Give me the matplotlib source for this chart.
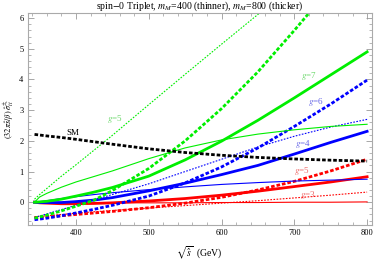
import matplotlib
matplotlib.use('Agg')
import matplotlib.pyplot as plt
from matplotlib.ticker import MultipleLocator

plt.rcParams['font.family'] = ['Liberation Serif', 'DejaVu Serif']
plt.rcParams['mathtext.fontset'] = 'stix'

# sqrt(s) grid (GeV) the curves were read at
sqrt_s = [343, 350, 360, 380, 400, 425, 450, 500, 550, 600, 650, 700, 750, 800]

# SM reference
sm = [2.21, 2.19, 2.16, 2.11, 2.05, 1.97, 1.89, 1.74, 1.62, 1.53, 1.46, 1.41, 1.37, 1.34]

# green (m_M=400 thin, m_M=800 thick)
green_thin_dot = [0.10, 0.25, 0.45, 0.85, 1.22, 1.70, 2.18, 3.18, 4.17, 5.15, 6.12, 7.1, 8.1, 9.1]
green_thick_dot = [-0.52, -0.48, -0.42, -0.28, -0.13, 0.07, 0.38, 1.10, 2.00, 3.05, 4.25, 5.60, 7.0, 8.5]
green_thin = [0.0, 0.17, 0.29, 0.49, 0.66, 0.84, 1.02, 1.42, 1.77, 2.03, 2.22, 2.36, 2.47, 2.54]
green_thick = [0.0, 0.01, 0.03, 0.10, 0.20, 0.33, 0.48, 0.85, 1.38, 1.99, 2.67, 3.40, 4.15, 4.90]

# blue
blue_thick_dot = [-0.57, -0.55, -0.52, -0.44, -0.35, -0.23, -0.10, 0.20, 0.63, 1.15, 1.77, 2.47, 3.20, 3.98]
blue_thin_dot = [-0.50, -0.45, -0.38, -0.24, -0.10, 0.08, 0.25, 0.60, 1.00, 1.40, 1.80, 2.15, 2.45, 2.70]
blue_thick = [0.0, -0.01, -0.01, -0.01, 0.02, 0.07, 0.15, 0.37, 0.62, 0.90, 1.20, 1.57, 1.95, 2.31]
blue_thin = [0.0, 0.02, 0.05, 0.12, 0.18, 0.25, 0.31, 0.41, 0.50, 0.58, 0.64, 0.69, 0.72, 0.75]

# red
red_thick_dot = [-0.50, -0.49, -0.48, -0.44, -0.40, -0.35, -0.30, -0.18, -0.03, 0.16, 0.40, 0.68, 1.02, 1.40]
red_thin_dot = [-0.47, -0.46, -0.44, -0.40, -0.36, -0.31, -0.27, -0.19, -0.11, -0.03, 0.05, 0.14, 0.23, 0.33]
red_thick = [0.0, -0.02, -0.03, -0.05, -0.05, -0.04, -0.02, 0.04, 0.12, 0.23, 0.36, 0.51, 0.66, 0.83]
red_thin = [0.0, -0.01, -0.01, -0.02, -0.02, -0.02, -0.02, -0.02, -0.02, -0.01, -0.01, 0.0, 0.0, 0.01]

# curve labels: text, x, y, colour
labels = [
    ('SM', 396, 2.25, 'black'),
    ('$g$=5', 454, 2.7, '#6ad86a'),
    ('$g$=7', 720, 4.11, '#6ad86a'),
    ('$g$=6', 729, 3.25, '#6666e6'),
    ('$g$=4', 712, 1.9, '#6666e6'),
    ('$g$=5', 710, 1.02, '#ee6666'),
    ('$g$=3', 718, 0.24, '#ee6666'),
]

fig = plt.figure(figsize=(3.74, 2.64), dpi=100)
ax = fig.add_axes([0.074, 0.148, 0.920, 0.802])

thin = 0.8
thick = 2.0
dot = (1.5, 1.3)
dash = (1.3, 0.7)

G, B, R = '#00ee00', '#0000ff', '#ff0000'

ax.plot(sqrt_s, red_thin, color=R, lw=thin)
ax.plot(sqrt_s, red_thin_dot, color=R, lw=thin, dashes=dot)
ax.plot(sqrt_s, red_thick, color=R, lw=thick)
ax.plot(sqrt_s, red_thick_dot, color=R, lw=thick, dashes=dash)
ax.plot(sqrt_s, blue_thin, color=B, lw=thin)
ax.plot(sqrt_s, blue_thin_dot, color=B, lw=thin, dashes=dot)
ax.plot(sqrt_s, blue_thick, color=B, lw=thick)
ax.plot(sqrt_s, blue_thick_dot, color=B, lw=thick, dashes=dash)
ax.plot(sqrt_s, green_thin, color=G, lw=thin)
ax.plot(sqrt_s, green_thin_dot, color=G, lw=thin, dashes=dot)
ax.plot(sqrt_s, green_thick, color=G, lw=thick)
ax.plot(sqrt_s, green_thick_dot, color=G, lw=thick, dashes=dash)
ax.plot(sqrt_s, sm, color='black', lw=thick, dashes=dash)

for txt, x, y, c in labels:
    ax.text(x, y, txt, color=c, fontsize=6.5, ha='center', va='center')

ax.set_xlim(333.6, 806.4)
ax.set_ylim(-0.74, 6.16)
ax.xaxis.set_major_locator(MultipleLocator(100))
ax.xaxis.set_minor_locator(MultipleLocator(20))
ax.yaxis.set_major_locator(MultipleLocator(1))
ax.yaxis.set_minor_locator(MultipleLocator(0.2))
ax.tick_params(which='both', direction='in', top=True, right=True,
               color='#999999', labelsize=6, pad=3)
ax.tick_params(which='major', length=4, width=0.6)
ax.tick_params(which='minor', length=2, width=0.5)
for s in ax.spines.values():
    s.set_color('#aaaaaa')
    s.set_linewidth(0.8)

ax.set_title(r'spin$-$0 Triplet, $m_M$=400 (thinner), $m_M$=800 (thicker)',
             fontsize=7, pad=2)
ax.set_xlabel(r'$\sqrt{\hat{s}}$  (GeV)', fontsize=7, labelpad=5)
ax.set_ylabel(r'$(32\pi\hat{s}/\beta)\;\hat{\sigma}^{\pm}_{t\bar{t}}$', fontsize=6, labelpad=2)

plt.savefig('out.png', dpi=100)
